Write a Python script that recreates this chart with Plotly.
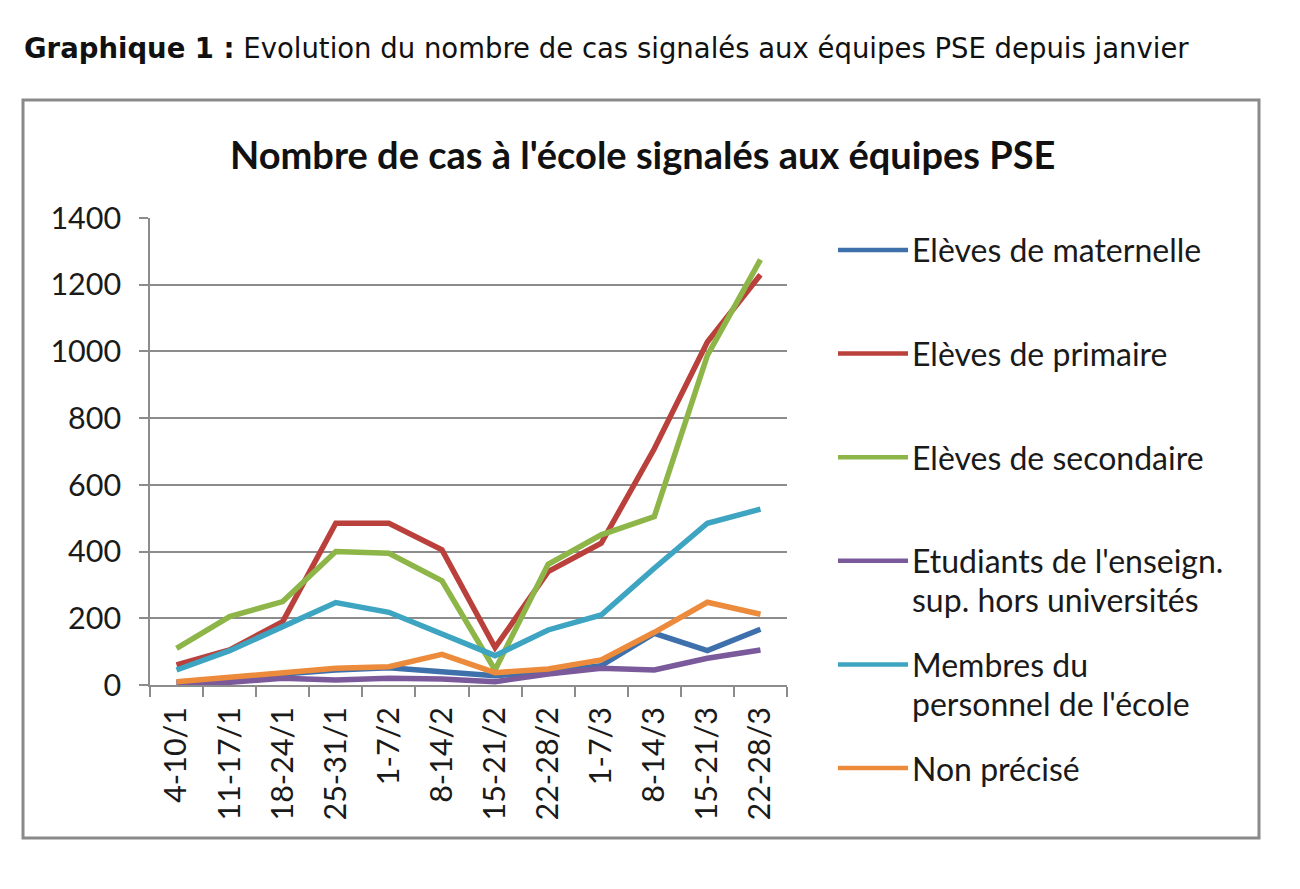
import plotly.graph_objects as go

# Weekly periods (x axis categories).
weeks = ['4-10/1', '11-17/1', '18-24/1', '25-31/1', '1-7/2', '8-14/2',
         '15-21/2', '22-28/2', '1-7/3', '8-14/3', '15-21/3', '22-28/3']

# Number of cases per group.
maternelle = [8, 20, 30, 45, 52, 40, 28, 40, 58, 155, 103, 167]
primaire = [60, 105, 190, 485, 485, 405, 112, 340, 425, 708, 1028, 1230]
secondaire = [110, 205, 250, 400, 395, 312, 45, 362, 450, 505, 988, 1275]
etudiants = [5, 8, 20, 15, 20, 18, 10, 33, 50, 45, 80, 105]
personnel = [45, 103, 175, 247, 218, 155, 88, 165, 210, 350, 485, 527]
non_precise = [10, 22, 35, 50, 55, 92, 37, 48, 75, 158, 248, 212]

series_names = ["Elèves de maternelle", "Elèves de primaire",
                "Elèves de secondaire",
                "Etudiants de l'enseign.<br>sup. hors universités",
                "Membres du<br>personnel de l'école", "Non précisé"]
series_values = [maternelle, primaire, secondaire, etudiants, personnel,
                 non_precise]
colors = ['#3E70AC', '#BA403C', '#8DB548', '#7B5A9C', '#3DA4C1', '#EC8B3C']

# Page pixels: the browser adds an 8px body margin around the figure.
W, H = 1300, 889
OFF = 8
PL, PR, PT, PB = 150 - OFF, 787 - OFF, 218 - OFF, 685 - OFF


def px(x):
    return (x - OFF - PL) / (PR - PL)


def py(y):
    return (PB - (y - OFF)) / (PB - PT)


fig = go.Figure()
for name, values, color in zip(series_names, series_values, colors):
    fig.add_trace(go.Scatter(x=weeks, y=values, name=name, mode='lines',
                             line=dict(color=color, width=5.5),
                             showlegend=False))

text_font = "Lato, 'Open Sans', sans-serif"
grid = '#8C8C8C'

annotations = [
    # Heading above the chart box.
    dict(text="<b>Graphique 1 :</b> Evolution du nombre de cas signalés "
              "aux équipes PSE depuis janvier",
         x=px(22), y=py(48), xanchor='left', yanchor='middle',
         font=dict(family='DejaVu Sans', size=27.5, color='#111111')),
    # Chart title.
    dict(text="<b>Nombre de cas à l'école signalés aux équipes PSE</b>",
         x=px(642), y=py(154), xanchor='center', yanchor='middle',
         font=dict(family=text_font, size=38, color='#111111')),
]

# Border of the chart box.
shapes = [dict(type='rect', xref='paper', yref='paper',
               x0=px(23), x1=px(1259), y0=py(838), y1=py(100),
               line=dict(color='#8A8A8A', width=3), layer='below')]

# Hand-made legend (Excel style: long line samples, even spacing).
for i, (name, color) in enumerate(zip(series_names, colors)):
    y_row = 250 + i * 103.6
    shapes.append(dict(type='line', xref='paper', yref='paper',
                       x0=px(838), x1=px(908), y0=py(y_row), y1=py(y_row),
                       line=dict(color=color, width=4.5)))
    for j, part in enumerate(name.split('<br>')):
        annotations.append(dict(text=part, x=px(910), y=py(y_row + j * 39),
                                xanchor='left', yanchor='middle',
                                font=dict(family=text_font, size=32,
                                          color='#1A1A1A')))

for a in annotations:
    a.update(xref='paper', yref='paper', showarrow=False)

fig.update_layout(
    width=W, height=H,
    margin=dict(l=PL, r=W - PR, t=PT, b=H - PB),
    paper_bgcolor='white', plot_bgcolor='white',
    annotations=annotations, shapes=shapes,
    font=dict(family=text_font, size=30.5, color='#1A1A1A'),
)

fig.update_xaxes(type='category', range=[-0.5, len(weeks) - 0.5],
                 showline=True, linecolor=grid,
                 linewidth=1.5, ticks='outside', tickson='boundaries',
                 ticklen=10, tickcolor=grid, tickwidth=1.5, tickangle=-90,
                 showgrid=False, ticklabelstandoff=8, dtick=1,
                 automargin=False, tickfont=dict(size=30.5))
fig.update_yaxes(range=[0, 1400], dtick=200, showline=True, linecolor=grid,
                 linewidth=1.5, ticks='outside', ticklen=9, tickcolor=grid,
                 tickwidth=1.5, gridcolor=grid, gridwidth=1.5,
                 zeroline=False, ticklabelstandoff=12, automargin=False,
                 tickfont=dict(size=30.5))

fig.write_html("out.html")
